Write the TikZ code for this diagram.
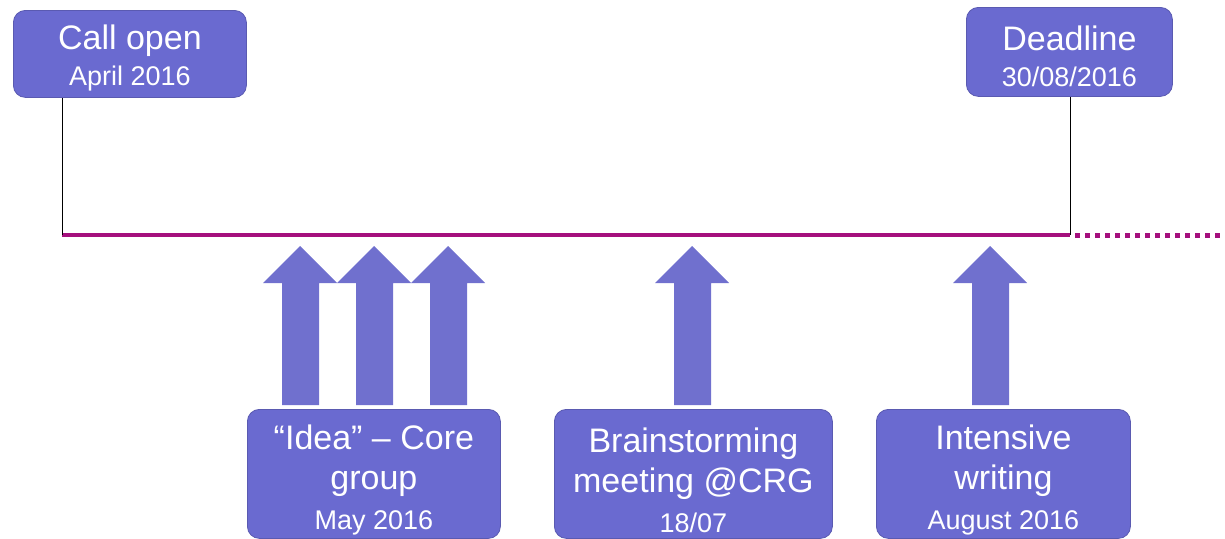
\documentclass[tikz,border=0pt]{standalone}
\usepackage{fontspec}
\setmainfont{Liberation Sans}
\definecolor{boxfill}{RGB}{106,106,208}
\definecolor{arrowfill}{RGB}{112,112,206}
\definecolor{linecol}{RGB}{165,15,125}
\newcommand{\boxtitle}{\fontsize{34}{40}\selectfont}
\newcommand{\boxdate}{\fontsize{27}{34}\selectfont}
\newcommand{\lowerby}[1]{\rule{0pt}{#1}}
\tikzset{
  phase/.style = {draw=boxfill!85!black, line width=0.8pt, fill=boxfill, rounded corners=12pt,
                  text=white, align=center, inner sep=0pt, anchor=north west, font=\boxtitle},
  timeline/.style = {draw=linecol, line width=4pt},
  upbar/.style = {fill=arrowfill}
}
\begin{document}
\begin{tikzpicture} [x=1pt, y=-1pt]
            \useasboundingbox (0, 0) rectangle (1225, 538);

            % Boxen oben
            \node [phase, minimum width=233pt, minimum height=87pt] (callopen) at (13, 10)
                {\lowerby{33pt}Call open\\[-4pt]\boxdate April 2016};
            \node [phase, minimum width=206pt, minimum height=89pt] (deadline) at (966, 7)
                {\lowerby{33pt}Deadline\\[-4pt]\boxdate 30/08/2016};

            % Zeitachse
            \coordinate (start) at (62, 235);
            \coordinate (stop)  at (1070, 235);
            \coordinate (open)  at (1225, 235);
            \draw [timeline] (start) -- (stop);
            \draw [timeline, line width=5pt, dash pattern=on 5pt off 5pt] (stop) ++(5, 0) -- (open);
            \draw [line width=1pt] (start |- callopen.south) -- (start);
            \draw [line width=1pt] (stop |- deadline.south) -- (stop);

            % Pfeile
            \foreach \x in {300, 374, 448, 692, 990}
                \fill [upbar] (\x, 246) -- (\x + 37, 283) -- (\x + 19, 283) -- (\x + 19, 405)
                    -- (\x - 18, 405) -- (\x - 18, 283) -- (\x - 37, 283) -- cycle;

            % Boxen unten
            \node [phase, minimum width=253pt, minimum height=129pt] (idea) at (247, 409)
                {\lowerby{37pt}``Idea'' -- Core\\group\\\boxdate May 2016};
            \node [phase, minimum width=278pt, minimum height=129pt] (brainstorm) at (554, 409)
                {\lowerby{37pt}Brainstorming\\meeting @CRG\\\boxdate 18/07};
            \node [phase, minimum width=254pt, minimum height=129pt] (writing) at (876, 409)
                {\lowerby{37pt}Intensive\\writing\\\boxdate August 2016};
        \end{tikzpicture}
\end{document}
